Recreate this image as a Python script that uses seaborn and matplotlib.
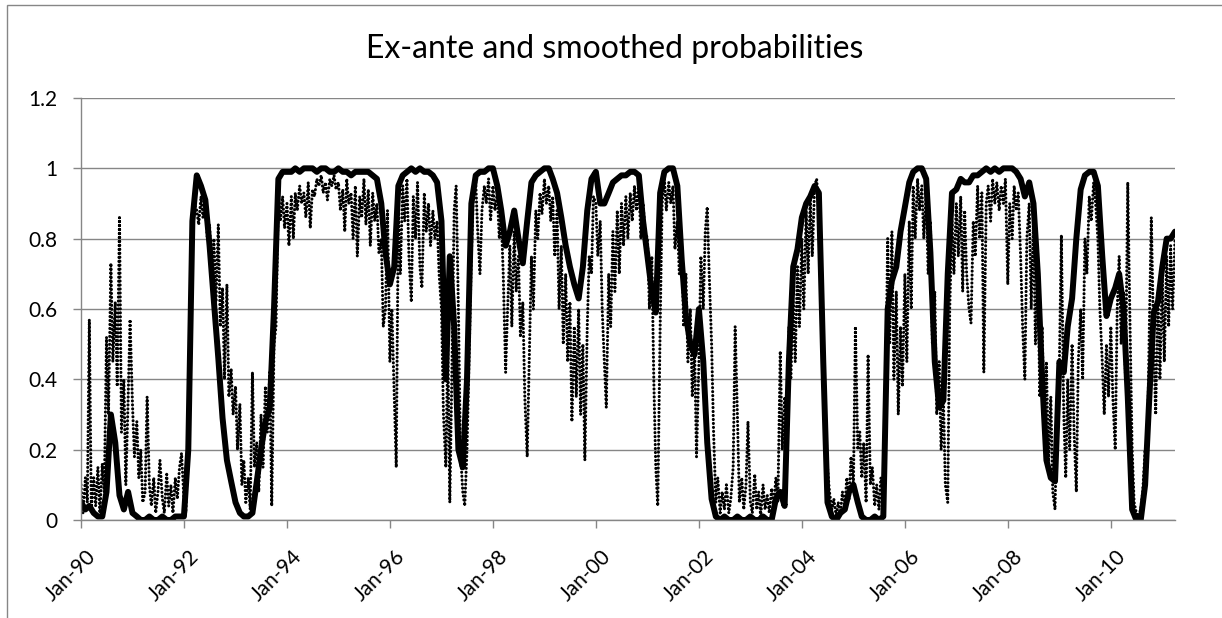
import numpy as np
import pandas as pd
import matplotlib.pyplot as plt
import matplotlib.dates as mdates
from matplotlib.transforms import ScaledTranslation
from matplotlib.patches import Rectangle
import seaborn as sns

sns.set_theme(style='white')
plt.rcParams['font.family'] = ['Lato', 'DejaVu Sans']

# smoothed probabilities, monthly, Jan-1990 .. Apr-2011
smoothed = [
    0.05, 0.03, 0.04, 0.02, 0.01, 0.01, 0.08, 0.30, 0.22, 0.07, 0.03, 0.08,  # 1990
    0.02, 0.01, 0.00, 0.00, 0.01, 0.00, 0.00, 0.01, 0.00, 0.00, 0.01, 0.01,  # 1991
    0.01, 0.20, 0.85, 0.98, 0.95, 0.91, 0.78, 0.62, 0.46, 0.29, 0.17, 0.11,  # 1992
    0.05, 0.02, 0.01, 0.01, 0.02, 0.11, 0.20, 0.28, 0.32, 0.60, 0.97, 0.99,  # 1993
    0.99, 0.99, 1.00, 0.99, 1.00, 1.00, 1.00, 0.99, 1.00, 1.00, 0.99, 0.99,  # 1994
    1.00, 0.99, 0.99, 0.98, 0.99, 0.99, 0.99, 0.99, 0.98, 0.97, 0.90, 0.76,  # 1995
    0.67, 0.72, 0.95, 0.98, 0.99, 1.00, 0.99, 1.00, 0.99, 0.99, 0.98, 0.96,  # 1996
    0.85, 0.40, 0.75, 0.55, 0.20, 0.15, 0.40, 0.90, 0.98, 0.99, 0.99, 1.00,  # 1997
    1.00, 0.95, 0.88, 0.78, 0.82, 0.88, 0.80, 0.73, 0.85, 0.96, 0.98, 0.99,  # 1998
    1.00, 1.00, 0.97, 0.93, 0.86, 0.78, 0.72, 0.67, 0.63, 0.72, 0.88, 0.97,  # 1999
    0.99, 0.90, 0.90, 0.93, 0.96, 0.97, 0.98, 0.98, 0.99, 0.99, 0.98, 0.85,  # 2000
    0.75, 0.65, 0.59, 0.93, 0.99, 1.00, 1.00, 0.95, 0.74, 0.58, 0.50, 0.47,  # 2001
    0.60, 0.45, 0.22, 0.06, 0.01, 0.00, 0.01, 0.00, 0.00, 0.01, 0.00, 0.00,  # 2002
    0.01, 0.00, 0.00, 0.01, 0.00, 0.00, 0.06, 0.08, 0.04, 0.45, 0.72, 0.77,  # 2003
    0.86, 0.90, 0.92, 0.95, 0.93, 0.45, 0.05, 0.01, 0.00, 0.02, 0.03, 0.08,  # 2004
    0.10, 0.05, 0.01, 0.00, 0.00, 0.01, 0.00, 0.01, 0.60, 0.68, 0.72, 0.82,  # 2005
    0.89, 0.96, 0.99, 1.00, 1.00, 0.97, 0.76, 0.45, 0.32, 0.34, 0.70, 0.93,  # 2006
    0.94, 0.97, 0.96, 0.96, 0.98, 0.98, 0.99, 1.00, 0.99, 1.00, 0.99, 1.00,  # 2007
    1.00, 1.00, 0.99, 0.97, 0.92, 0.96, 0.90, 0.70, 0.40, 0.17, 0.12, 0.11,  # 2008
    0.45, 0.42, 0.55, 0.63, 0.80, 0.94, 0.98, 0.99, 0.99, 0.95, 0.75, 0.58,  # 2009
    0.63, 0.66, 0.70, 0.60, 0.35, 0.03, 0.00, 0.00, 0.10, 0.35, 0.59, 0.62,  # 2010
    0.72, 0.80, 0.80, 0.82,                                                  # 2011
]

# ex-ante probabilities, twice a month, Jan-1990 .. Apr-2011
ex_ante = [
    0.10, 0.02, 0.12, 0.05, 0.57, 0.03, 0.12, 0.04, 0.15, 0.02, 0.16, 0.08,
    0.52, 0.30, 0.73, 0.45, 0.62, 0.38, 0.86, 0.25, 0.40, 0.10, 0.34, 0.57,  # 1990
    0.33, 0.18, 0.28, 0.12, 0.20, 0.05, 0.08, 0.35, 0.10, 0.04, 0.12, 0.02,
    0.08, 0.17, 0.06, 0.02, 0.13, 0.04, 0.10, 0.02, 0.12, 0.06, 0.15, 0.19,  # 1991
    0.06, 0.02, 0.30, 0.62, 0.85, 0.90, 0.88, 0.84, 0.92, 0.86, 0.90, 0.80,
    0.84, 0.70, 0.80, 0.62, 0.84, 0.55, 0.66, 0.40, 0.67, 0.35, 0.43, 0.30,  # 1992
    0.38, 0.20, 0.33, 0.10, 0.17, 0.05, 0.12, 0.03, 0.42, 0.15, 0.22, 0.08,
    0.30, 0.15, 0.38, 0.25, 0.42, 0.04, 0.50, 0.55, 0.93, 0.85, 0.92, 0.83,  # 1993
    0.90, 0.78, 0.92, 0.80, 0.93, 0.88, 0.95, 0.90, 0.93, 0.86, 0.96, 0.83,
    0.94, 0.92, 0.97, 0.95, 0.98, 0.93, 0.96, 0.91, 0.97, 0.95, 0.98, 0.94,  # 1994
    0.96, 0.88, 0.94, 0.82, 0.97, 0.90, 0.93, 0.80, 0.95, 0.75, 0.92, 0.86,
    0.97, 0.84, 0.94, 0.78, 0.93, 0.85, 0.90, 0.76, 0.80, 0.55, 0.60, 0.88,  # 1995
    0.45, 0.60, 0.35, 0.15, 0.88, 0.70, 0.95, 0.85, 0.97, 0.75, 0.62, 0.92,
    0.80, 0.96, 0.72, 0.66, 0.93, 0.82, 0.90, 0.78, 0.88, 0.80, 0.85, 0.70,  # 1996
    0.60, 0.30, 0.15, 0.50, 0.05, 0.40, 0.88, 0.95, 0.60, 0.20, 0.08, 0.04,
    0.20, 0.45, 0.75, 0.92, 0.96, 0.82, 0.70, 0.88, 0.95, 0.90, 0.97, 0.85,  # 1997
    0.95, 0.88, 0.93, 0.80, 0.86, 0.70, 0.42, 0.60, 0.78, 0.55, 0.82, 0.65,
    0.75, 0.52, 0.62, 0.35, 0.18, 0.45, 0.75, 0.60, 0.88, 0.80, 0.93, 0.87,  # 1998
    0.97, 0.90, 0.95, 0.85, 0.92, 0.75, 0.88, 0.60, 0.78, 0.50, 0.70, 0.45,
    0.62, 0.28, 0.55, 0.35, 0.60, 0.30, 0.50, 0.17, 0.55, 0.75, 0.70, 0.92,  # 1999
    0.90, 0.75, 0.85, 0.60, 0.45, 0.32, 0.70, 0.55, 0.82, 0.65, 0.88, 0.70,
    0.90, 0.78, 0.92, 0.80, 0.93, 0.85, 0.95, 0.88, 0.96, 0.80, 0.90, 0.82,  # 2000
    0.80, 0.60, 0.75, 0.40, 0.15, 0.04, 0.55, 0.90, 0.97, 0.88, 0.96, 0.90,
    0.95, 0.77, 0.85, 0.70, 0.78, 0.55, 0.70, 0.45, 0.60, 0.35, 0.50, 0.18,  # 2001
    0.45, 0.75, 0.60, 0.82, 0.89, 0.70, 0.50, 0.25, 0.05, 0.12, 0.02, 0.08,
    0.03, 0.10, 0.02, 0.06, 0.15, 0.55, 0.30, 0.05, 0.12, 0.03, 0.10, 0.28,  # 2002
    0.05, 0.02, 0.13, 0.03, 0.08, 0.01, 0.10, 0.03, 0.07, 0.02, 0.09, 0.04,
    0.12, 0.05, 0.48, 0.20, 0.35, 0.22, 0.55, 0.40, 0.62, 0.45, 0.72, 0.55,  # 2003
    0.80, 0.60, 0.88, 0.70, 0.92, 0.75, 0.95, 0.97, 0.88, 0.70, 0.50, 0.30,
    0.15, 0.08, 0.03, 0.06, 0.01, 0.05, 0.02, 0.08, 0.04, 0.12, 0.06, 0.18,  # 2004
    0.10, 0.55, 0.20, 0.25, 0.12, 0.22, 0.05, 0.47, 0.10, 0.15, 0.04, 0.10,
    0.03, 0.12, 0.06, 0.30, 0.80, 0.50, 0.82, 0.40, 0.65, 0.30, 0.55, 0.38,  # 2005
    0.70, 0.45, 0.85, 0.60, 0.95, 0.80, 0.97, 0.88, 0.95, 0.80, 0.93, 0.70,
    0.85, 0.50, 0.65, 0.30, 0.45, 0.20, 0.35, 0.10, 0.05, 0.60, 0.85, 0.70,  # 2006
    0.90, 0.75, 0.92, 0.65, 0.88, 0.70, 0.60, 0.56, 0.85, 0.75, 0.95, 0.80,
    0.93, 0.42, 0.90, 0.95, 0.85, 0.97, 0.90, 0.96, 0.88, 0.95, 0.90, 0.97,  # 2007
    0.67, 0.90, 0.80, 0.95, 0.88, 0.93, 0.75, 0.55, 0.40, 0.80, 0.90, 0.60,
    0.85, 0.50, 0.70, 0.35, 0.55, 0.25, 0.45, 0.15, 0.35, 0.08, 0.03, 0.30,  # 2008
    0.45, 0.81, 0.30, 0.12, 0.40, 0.20, 0.50, 0.25, 0.08, 0.45, 0.60, 0.40,
    0.80, 0.70, 0.92, 0.85, 0.96, 0.90, 0.80, 0.60, 0.45, 0.30, 0.50, 0.35,  # 2009
    0.55, 0.35, 0.20, 0.60, 0.75, 0.50, 0.65, 0.40, 0.96, 0.60, 0.20, 0.05,
    0.02, 0.01, 0.03, 0.08, 0.20, 0.15, 0.55, 0.86, 0.50, 0.30, 0.65, 0.40,  # 2010
    0.70, 0.45, 0.75, 0.55, 0.78, 0.60, 0.80,                                # 2011
]

yticks = [0, 0.2, 0.4, 0.6, 0.8, 1.0, 1.2]
ytick_labels = ['0', '0.2', '0.4', '0.6', '0.8', '1', '1.2']
title = 'Ex-ante and smoothed probabilities'

smooth_df = pd.DataFrame({'date': pd.date_range('1990-01-01', periods=len(smoothed), freq='MS'),
                          'p': smoothed})
ante_df = pd.DataFrame({'date': pd.date_range('1990-01-01', periods=len(ex_ante), freq='SMS'),
                        'p': ex_ante})

grey = '#868686'
fig = plt.figure(figsize=(12.22, 6.18), dpi=100)
ax = fig.add_axes([81 / 1222, 98 / 618, (1175 - 81) / 1222, (520 - 98) / 618])

sns.lineplot(data=ante_df, x='date', y='p', ax=ax, color='black', lw=2.2)
dots = ax.lines[-1]
dots.set_linestyle((0, (0.05, 1.25)))
dots.set_dash_capstyle('round')
sns.lineplot(data=smooth_df, x='date', y='p', ax=ax, color='black', lw=4.3,
             solid_joinstyle='round', solid_capstyle='round')

ax.set_xlim(smooth_df['date'].iloc[0], smooth_df['date'].iloc[-1])
ax.set_ylim(0, 1.2)
ax.set_yticks(yticks)
ax.set_yticklabels(ytick_labels)
ax.xaxis.set_major_locator(mdates.YearLocator(2))
ax.xaxis.set_major_formatter(mdates.DateFormatter('%b-%y'))
ax.set_xlabel('')
ax.set_ylabel('')

ax.yaxis.grid(True, color=grey, lw=1)
ax.set_axisbelow(True)
for s in ['top', 'right']:
    ax.spines[s].set_visible(False)
for s in ['left', 'bottom']:
    ax.spines[s].set_color(grey)
    ax.spines[s].set_linewidth(1)

ax.tick_params(axis='both', direction='out', length=5.8, width=1, color=grey,
               labelsize=15, labelcolor='black', left=True, bottom=True)
ax.tick_params(axis='y', pad=11)
ax.tick_params(axis='x', pad=13)
shift = ScaledTranslation(5 / 100, 0, fig.dpi_scale_trans)
for lab in ax.get_xticklabels():
    lab.set_rotation(45)
    lab.set_ha('right')
    lab.set_va('top')
    lab.set_rotation_mode('anchor')
    lab.set_transform(lab.get_transform() + shift)

fig.text(615 / 1222, 1 - 58 / 618, title, ha='center', va='baseline', fontsize=23, color='black')

fig.patches.append(Rectangle((7 / 1222, -0.1), 1.2, 1 - 5 / 618 + 0.1, transform=fig.transFigure,
                             fill=False, ec=grey, lw=1))

fig.savefig('out.png', dpi=100)
